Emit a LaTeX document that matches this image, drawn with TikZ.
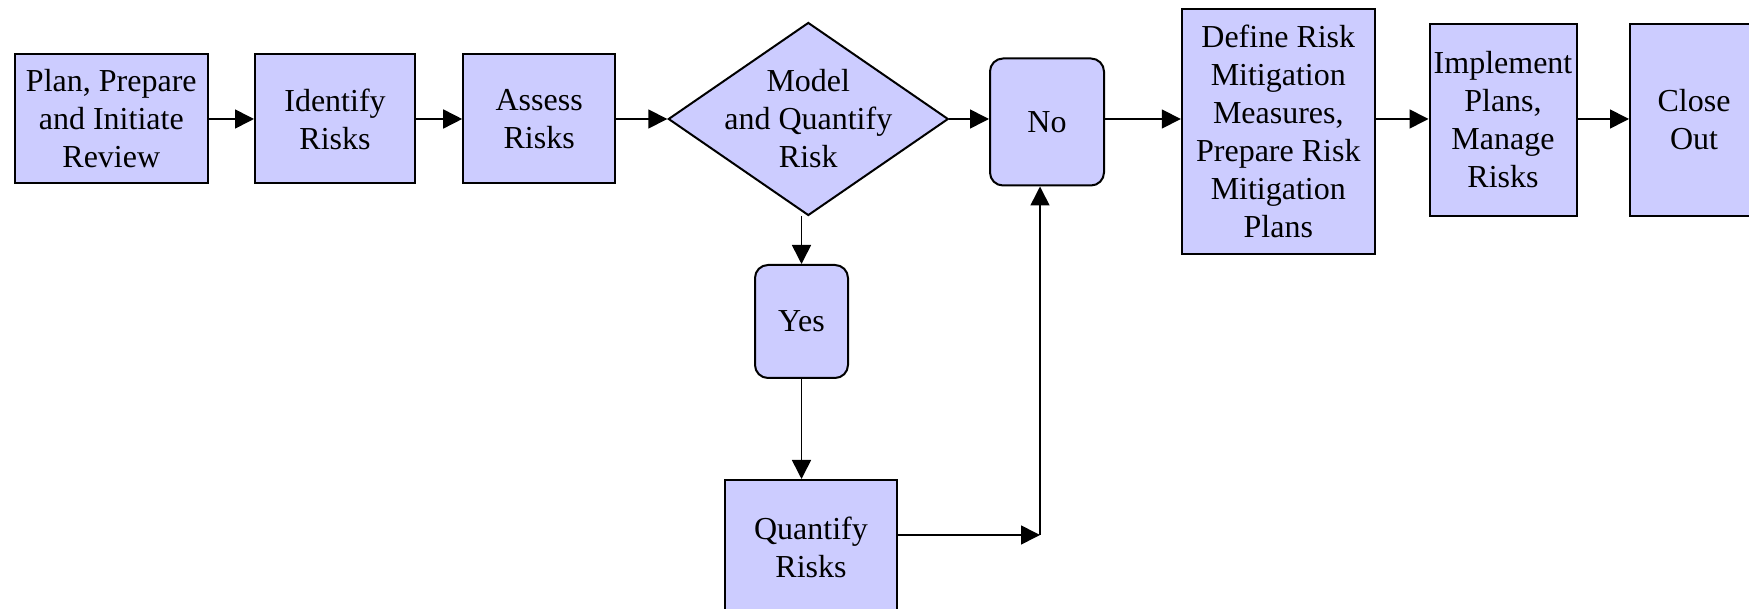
\documentclass[tikz,border=0pt]{standalone}
\usepackage{fontspec}
\setmainfont{Liberation Serif}
\usetikzlibrary{shapes.geometric, arrows.meta}
\definecolor{boxblue}{RGB}{204,204,255}
\tikzstyle{item} = [rectangle, inner sep=0pt, align=center, draw=black, line width=2pt, fill=boxblue, font=\fontsize{32}{38}\selectfont]
\tikzstyle{answer} = [item, rounded corners=13pt]
\tikzstyle{decision} = [diamond, inner sep=0pt, draw=black, line width=2pt, fill=boxblue, minimum width=280pt, minimum height=193pt]
\tikzstyle{arrow} = [line width=1.6pt, -{Triangle[length=19pt,width=19pt]}]

\begin{document}
\begin{tikzpicture}[x=1pt,y=-1pt]
\useasboundingbox (0,0) rectangle (1749,609);
\node(plan)[item, minimum width=193pt, minimum height=129pt] at (111.3,119) {Plan, Prepare\\and Initiate\\Review};
\node(ident)[item, minimum width=160pt, minimum height=129pt] at (335,119) {Identify\\Risks};
\node(assess)[item, minimum width=152pt, minimum height=129pt] at (539.2,119) {Assess\\Risks};
\node(model)[decision, label={[align=center, font=\fontsize{32}{38}\selectfont]center:Model\\and Quantify\\Risk}] at (808.3,119) {};
\node(no)[answer, minimum width=114pt, minimum height=127pt] at (1047,122) {No};
\node(define)[item, minimum width=193pt, minimum height=245pt] at (1278.3,131.5) {Define Risk\\Mitigation\\Measures,\\Prepare Risk\\Mitigation\\Plans};
\node(impl)[item, minimum width=147pt, minimum height=192pt] at (1503,120) {Implement\\Plans,\\Manage\\Risks};
\node(close)[item, minimum width=128pt, minimum height=192pt] at (1694,120) {Close\\Out};
\node(yes)[answer, minimum width=93pt, minimum height=113pt] at (801.5,321.5) {Yes};
\node(quant)[item, minimum width=172pt, minimum height=134pt] at (811,547) {Quantify\\Risks};
\coordinate (bend) at (1040,535);

\draw[arrow] (plan) -- (ident);
\draw[arrow] (ident) -- (assess);
\draw[arrow] (assess) -- (model);
\draw[arrow] (model.east) -- (model.east -| no.west);
\draw[arrow] (model.east -| no.east) -- (model.east -| define.west);
\draw[arrow] (define.east |- model.east) -- (impl.west |- model.east);
\draw[arrow] (impl.east |- model.east) -- (close.west |- model.east);
\draw[arrow] (model.south -| yes) -- (yes.north);
\draw[arrow] (yes) -- (yes |- quant.north);
\draw[arrow] (quant.east |- bend) -- (bend);
\draw[arrow] (bend) -- (bend |- no.south);

\end{tikzpicture}
\end{document}
